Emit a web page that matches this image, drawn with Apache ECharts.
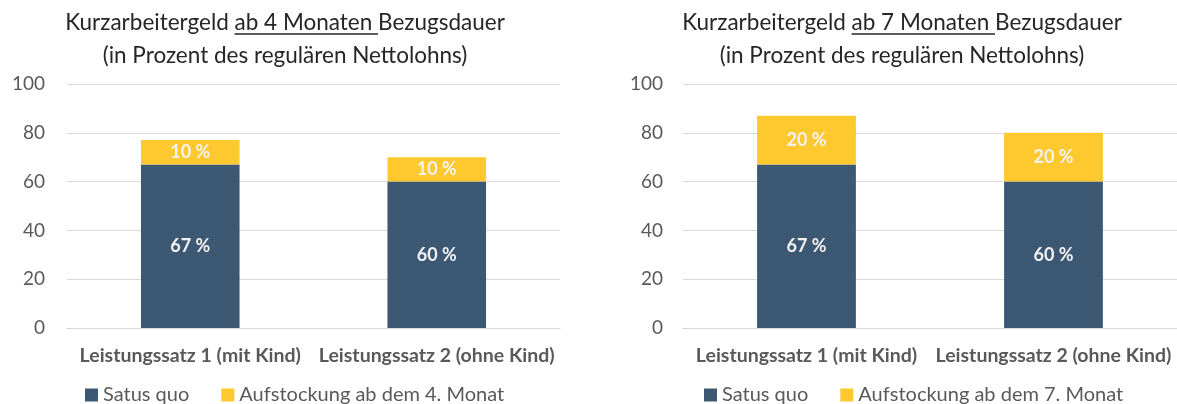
<!DOCTYPE html>
<html><head><meta charset="utf-8">
<script src="https://cdn.jsdelivr.net/npm/echarts@6/dist/echarts.min.js"></script>
<style>html,body{margin:0;padding:0;background:#fff}#c{width:1177px;height:404px}</style>
</head><body><div id="c"></div>
<script>
// ---- data ----
const categories = ['Leistungssatz 1 (mit Kind)', 'Leistungssatz 2 (ohne Kind)'];
const yTicks = [0, 20, 40, 60, 80, 100];
const statusQuo = [67, 60];
const aufstockung4 = [10, 10];
const aufstockung7 = [20, 20];
const nameStatus = 'Satus quo';
const nameAuf4 = 'Aufstockung ab dem 4. Monat';
const nameAuf7 = 'Aufstockung ab dem 7. Monat';
const titleParts = [
  ['Kurzarbeitergeld ', 'ab 4 Monaten ', 'Bezugsdauer'],
  ['Kurzarbeitergeld ', 'ab 7 Monaten ', 'Bezugsdauer']
];
const subtitle = '(in Prozent des regulären Nettolohns)';

// ---- style ----
const FONT = 'Lato';
const BLUE = '#3D5873';
const YELLOW = '#FEC82F';
const AXIS_TXT = '#595959';
const GRID_LINE = '#D9D9D9';
const TITLE_SIZE = 22.5;
const titleCenters = [285, 902];
const titleY1 = 23, titleY2 = 56;

const chart = echarts.init(document.getElementById('c'), null, {renderer: 'canvas'});

const meas = document.createElement('canvas').getContext('2d');
meas.font = TITLE_SIZE + 'px ' + FONT;
const graphics = [];
titleParts.forEach((parts, i) => {
  const full = parts.join('');
  const cx = titleCenters[i];
  const wFull = meas.measureText(full).width;
  const x0 = cx - wFull / 2 + meas.measureText(parts[0]).width;
  const x1 = x0 + meas.measureText(parts[1]).width;
  graphics.push({type: 'text', x: cx, y: titleY1, style: {text: full, font: TITLE_SIZE + 'px ' + FONT, fill: '#262626', align: 'center', verticalAlign: 'middle'}});
  graphics.push({type: 'text', x: cx, y: titleY2, style: {text: subtitle, font: TITLE_SIZE + 'px ' + FONT, fill: '#262626', align: 'center', verticalAlign: 'middle'}});
  graphics.push({type: 'line', shape: {x1: x0, y1: titleY1 + 11, x2: x1, y2: titleY1 + 11}, style: {stroke: '#262626', lineWidth: 1.3}});
});

const yAxisBase = (gi, margin) => ({
  type: 'value', gridIndex: gi,
  min: yTicks[0], max: yTicks[yTicks.length - 1], interval: yTicks[1] - yTicks[0],
  axisLine: {show: false}, axisTick: {show: false},
  splitLine: {lineStyle: {color: GRID_LINE, width: 1}},
  axisLabel: {color: AXIS_TXT, fontFamily: FONT, fontSize: 19, margin: margin}
});
const xAxisBase = (gi) => ({
  type: 'category', gridIndex: gi, data: categories,
  axisLine: {show: true, lineStyle: {color: GRID_LINE}}, axisTick: {show: false},
  axisLabel: {color: AXIS_TXT, fontFamily: FONT, fontSize: 19.5, fontWeight: 'bold', margin: 18, interval: 0}
});
const lbl = {show: true, position: 'inside', color: '#F2F2F2', fontFamily: FONT, fontSize: 18, fontWeight: 'bold', formatter: '{c} %'};
const legendBase = (left, data) => ({
  left: left, top: 380, icon: 'rect', itemWidth: 13, itemHeight: 13, itemGap: 32,
  data: data, textStyle: {color: AXIS_TXT, fontFamily: FONT, fontSize: 20}, selectedMode: false
});

chart.setOption({
  animation: false,
  graphic: graphics,
  grid: [
    {left: 67, right: 617, top: 84, bottom: 76, containLabel: false},
    {left: 683, right: -2, top: 84, bottom: 76, containLabel: false}
  ],
  xAxis: [xAxisBase(0), xAxisBase(1)],
  yAxis: [yAxisBase(0, 22), yAxisBase(1, 20)],
  legend: [legendBase(80, [nameStatus, nameAuf4]), legendBase(699, [nameStatus, nameAuf7])],
  series: [
    {name: nameStatus, type: 'bar', stack: 'l', xAxisIndex: 0, yAxisIndex: 0, barWidth: '40%', data: statusQuo, itemStyle: {color: BLUE}, label: lbl},
    {name: nameAuf4, type: 'bar', stack: 'l', xAxisIndex: 0, yAxisIndex: 0, barWidth: '40%', data: aufstockung4, itemStyle: {color: YELLOW}, label: lbl},
    {name: nameStatus, type: 'bar', stack: 'r', xAxisIndex: 1, yAxisIndex: 1, barWidth: '40%', data: statusQuo, itemStyle: {color: BLUE}, label: lbl},
    {name: nameAuf7, type: 'bar', stack: 'r', xAxisIndex: 1, yAxisIndex: 1, barWidth: '40%', data: aufstockung7, itemStyle: {color: YELLOW}, label: lbl}
  ]
});
</script></body></html>
